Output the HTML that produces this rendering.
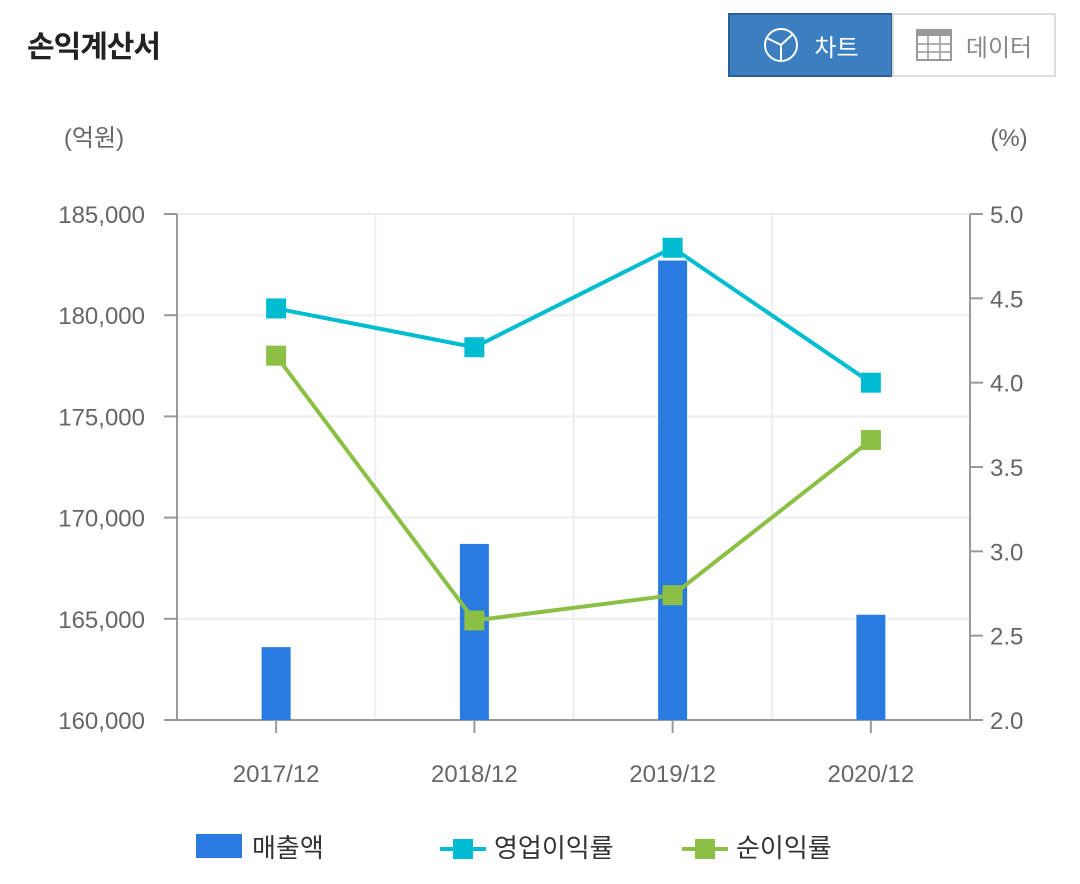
<!DOCTYPE html>
<html><head><meta charset="utf-8"><style>
body{margin:0;background:#fff;width:1080px;height:884px;overflow:hidden;font-family:"Liberation Sans","Noto Sans CJK KR",sans-serif;}
#title{position:absolute;left:27px;top:22px;font-size:30px;font-weight:bold;color:#222;letter-spacing:-1px}
.btn{position:absolute;top:13px;height:64px;box-sizing:border-box;font-size:24px;display:flex;align-items:center;justify-content:center;gap:14px}
#b1{left:728px;width:165px;background:#3b7fc0;border:2px solid #2a5f98;color:#fff}
#b2{left:892px;width:164px;background:#fff;border:2px solid #ddd;color:#888}
</style></head><body>
<div id="title">손익계산서</div>
<div class="btn" id="b1"><svg width="38" height="38" viewBox="0 0 38 38"><circle cx="19" cy="19" r="16" fill="none" stroke="#fff" stroke-width="2"/><path d="M19 19 L19 35 M19 19 L5 12 M19 19 L31 8" stroke="#fff" stroke-width="2" fill="none"/></svg>차트</div>
<div class="btn" id="b2"><svg width="36" height="32" viewBox="0 0 36 32"><rect x="1" y="1" width="34" height="30" fill="none" stroke="#999" stroke-width="2"/><rect x="1" y="1" width="34" height="6" fill="#999"/><path d="M1 15H35M1 23H35M12 1V31M24 1V31" stroke="#999" stroke-width="1.5"/></svg>데이터</div>
<svg id="chart" width="1080" height="884" style="position:absolute;left:0;top:0;pointer-events:none" font-family="Liberation Sans, Noto Sans CJK KR, sans-serif"></svg>
<script>
const categories=["2017/12","2018/12","2019/12","2020/12"];
const revenue=[163600,168700,182700,165200];
const opMargin=[4.44,4.21,4.80,4.00];
const netMargin=[4.16,2.59,2.74,3.66];
const leftTicks=[160000,165000,170000,175000,180000,185000];
const rightTicks=[2.0,2.5,3.0,3.5,4.0,4.5,5.0];
const svg=document.getElementById('chart');const NS='http://www.w3.org/2000/svg';
const X0=177,X1=970,Y0=720,Y1=214;
const yL=v=>Y0-(v-160000)/25000*(Y0-Y1);
const yR=v=>Y0-(v-2)/3*(Y0-Y1);
const bw=(X1-X0)/categories.length;
const xc=i=>X0+bw*(i+0.5);
function el(t,a,p){const e=document.createElementNS(NS,t);for(const k in a)e.setAttribute(k,a[k]);(p||svg).appendChild(e);return e;}
leftTicks.forEach(v=>{
const g=el('line',{x1:X0,x2:X1,y1:yL(v),y2:yL(v),stroke:'#eee','stroke-width':2});


el('line',{x1:X0-13,x2:X0,y1:yL(v),y2:yL(v),stroke:'#999','stroke-width':2});
const t=el('text',{x:X0-32,y:yL(v)+9,'text-anchor':'end','font-size':24,fill:'#666'});t.textContent=v.toLocaleString('en-US');


});
for(let i=1;i<categories.length;i++){el('line',{x1:X0+bw*i,x2:X0+bw*i,y1:Y1,y2:Y0,stroke:'#eee','stroke-width':2});}
rightTicks.forEach(v=>{
el('line',{x1:X1,x2:X1+13,y1:yR(v),y2:yR(v),stroke:'#999','stroke-width':2});
const t=el('text',{x:X1+20,y:yR(v)+9,'font-size':24,fill:'#666'});t.textContent=v.toFixed(1);


});
el('line',{x1:X0,x2:X0,y1:Y1,y2:Y0,stroke:'#999','stroke-width':2});
el('line',{x1:X1,x2:X1,y1:Y1,y2:Y0,stroke:'#999','stroke-width':2});
el('line',{x1:X0,x2:X1,y1:Y0,y2:Y0,stroke:'#999','stroke-width':2});
let t=el('text',{x:94,y:146,'text-anchor':'middle','font-size':24,fill:'#666'});t.textContent='(억원)';

t=el('text',{x:1009,y:146,'text-anchor':'middle','font-size':24,fill:'#666'});t.textContent='(%)';

categories.forEach((c,i)=>{
el('line',{x1:xc(i),x2:xc(i),y1:Y0,y2:Y0+13,stroke:'#999','stroke-width':2});
const l=el('text',{x:xc(i),y:782,'text-anchor':'middle','font-size':24,fill:'#666'});l.textContent=c;


const b=el('rect',{x:xc(i)-14.5,y:yL(revenue[i]),width:29,height:Y0-yL(revenue[i]),fill:'#2a7be0'});


});
function series(vals,color,name){
const p=el('polyline',{points:vals.map((v,i)=>xc(i)+','+yR(v)).join(' '),fill:'none',stroke:color,'stroke-width':4});


vals.forEach((v,i)=>{const m=el('rect',{x:xc(i)-10,y:yR(v)-10,width:20,height:20,fill:color});

});
}
series(opMargin,'#00bcd0','op-margin');
series(netMargin,'#8bbf45','net-margin');
// legend
el('rect',{x:196,y:834,width:46,height:24,fill:'#2a7be0'});
t=el('text',{x:252,y:857,'font-size':26,fill:'#333'});t.textContent='매출액';

el('line',{x1:440,x2:486,y1:849,y2:849,stroke:'#00bcd0','stroke-width':4});
el('rect',{x:453,y:839,width:20,height:20,fill:'#00bcd0'});
t=el('text',{x:494,y:857,'font-size':26,fill:'#333'});t.textContent='영업이익률';

el('line',{x1:682,x2:728,y1:849,y2:849,stroke:'#8bbf45','stroke-width':4});
el('rect',{x:695,y:839,width:20,height:20,fill:'#8bbf45'});
t=el('text',{x:736,y:857,'font-size':26,fill:'#333'});t.textContent='순이익률';

</script>
</body></html>
